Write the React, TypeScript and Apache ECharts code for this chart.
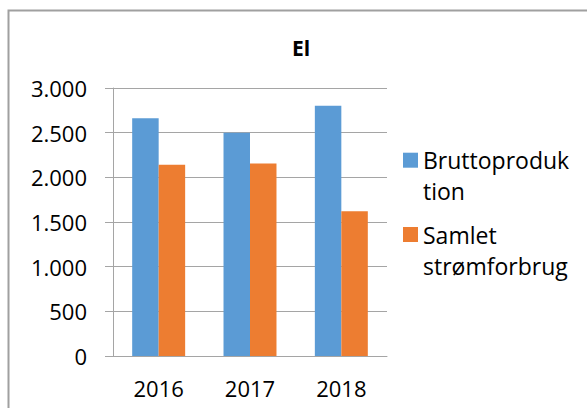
import React, { useEffect, useRef } from "react";
import * as echarts from "echarts";

const categories = ["2016", "2017", "2018"];
const bruttoproduktion = [2660, 2500, 2800];
const samletForbrug = [2140, 2155, 1620];
const seriesNames = ["Bruttoproduktion", "Samlet strømforbrug"];
const legendLabels: Record<string, string> = {
  Bruttoproduktion: "\nBruttoproduk\ntion",
  "Samlet strømforbrug": "\nSamlet\nstrømforbrug",
};
const titleText = "El";

const FONT = "'Open Sans', 'Noto Sans', sans-serif";

function fmt(v: number): string {
  return String(v).replace(/\B(?=(\d{3})+(?!\d))/g, ".");
}

export default function App() {
  const ref = useRef<HTMLDivElement>(null);
  useEffect(() => {
    if (!ref.current) return;
    const chart = echarts.init(ref.current, undefined, { renderer: "svg" });
    const legendCommon = {
      orient: "vertical",
      left: 403,
      padding: 0,
      itemWidth: 15,
      itemHeight: 15,
      icon: "rect",
      selectedMode: false,
      formatter: (n: string) => legendLabels[n] || n,
      textStyle: {
        fontFamily: FONT,
        fontSize: 23,
        color: "#000",
        lineHeight: 31,
      },
    };
    chart.setOption({
      animation: false,
      backgroundColor: "#fff",
      textStyle: { fontFamily: FONT },
      graphic: [
        {
          type: "rect",
          shape: { x: 8.5, y: 10.5, width: 700, height: 600 },
          style: { fill: "none", stroke: "#a0a0a0", lineWidth: 2 },
          silent: true,
        },
        {
          type: "text",
          x: 301,
          y: 48,
          style: {
            text: titleText,
            fontFamily: FONT,
            fontWeight: "bold",
            fontSize: 21,
            fill: "#000",
            align: "center",
            verticalAlign: "middle",
          },
        },
      ],
      legend: [
        { ...legendCommon, top: 113.7, data: [seriesNames[0]] },
        { ...legendCommon, top: 188, data: [seriesNames[1]] },
      ],
      grid: { left: 113, right: 200, top: 88, bottom: 52 },
      xAxis: {
        type: "category",
        data: categories,
        axisLine: { lineStyle: { color: "#a5a5a5", width: 1 } },
        axisTick: { length: 7, lineStyle: { color: "#a5a5a5" } },
        axisLabel: { color: "#000", fontSize: 22, margin: 21, fontFamily: FONT },
      },
      yAxis: {
        type: "value",
        min: 0,
        max: 3000,
        interval: 500,
        axisLine: { show: true, lineStyle: { color: "#a5a5a5", width: 1 } },
        axisTick: { show: true, length: 8, lineStyle: { color: "#a5a5a5" } },
        splitLine: { lineStyle: { color: "#a5a5a5", width: 1 } },
        axisLabel: {
          color: "#000",
          fontSize: 22,
          margin: 26,
          fontFamily: FONT,
          formatter: (v: number) => fmt(v),
        },
      },
      series: [
        {
          name: seriesNames[0],
          type: "bar",
          data: bruttoproduktion,
          itemStyle: { color: "#5B9BD5" },
          barGap: "0%",
          barCategoryGap: "42%",
        },
        {
          name: seriesNames[1],
          type: "bar",
          data: samletForbrug,
          itemStyle: { color: "#ED7D31" },
          barGap: "0%",
          barCategoryGap: "42%",
        },
      ],
    });
    return () => chart.dispose();
  }, []);
  return (
    <div
      ref={ref}
      style={{ position: "absolute", left: 0, top: 0, width: 587, height: 408 }}
    />
  );
}
